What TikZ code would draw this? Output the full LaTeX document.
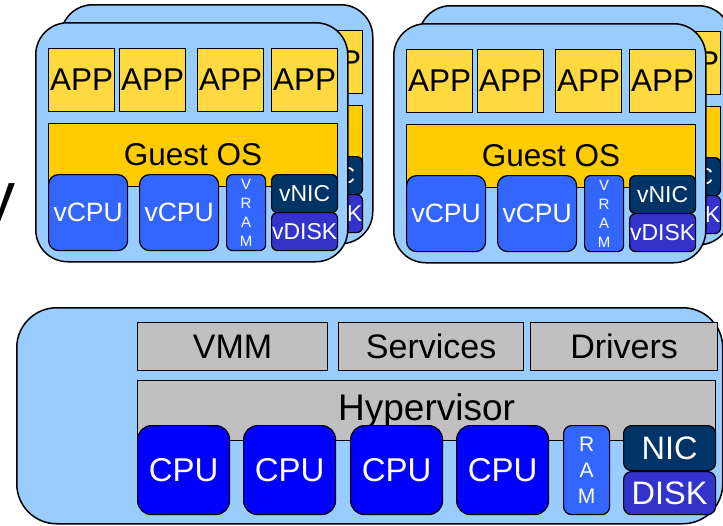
\documentclass[tikz,border=0pt]{standalone}
\usepackage{fontspec}
\setmainfont{Liberation Sans}
\usetikzlibrary{positioning}

\definecolor{vmblue}{HTML}{99CCFF}
\definecolor{appyellow}{HTML}{FFD940}
\definecolor{osyellow}{HTML}{FFCC00}
\definecolor{vcpublue}{HTML}{3366FF}
\definecolor{nicnavy}{HTML}{003366}
\definecolor{diskblue}{HTML}{3333CC}
\definecolor{cpublue}{HTML}{0000FF}
\definecolor{layergray}{HTML}{C0C0C0}

\begin{document}
\begin{tikzpicture}[
  x=1pt,
  y=-1pt,
  line width=1.2pt,
  every node/.style={inner sep=0pt, anchor=north west},
  wh/.style 2 args={minimum width=#1pt, minimum height=#2pt},
  part/.style={draw, align=center},
  vmbox/.style={draw, fill=vmblue, line width=1.5pt, rounded corners=32pt, wh={312}{239}},
  appbox/.style={part, fill=appyellow, wh={66}{63}, font=\fontsize{31.5}{36}\selectfont},
  osbox/.style={part, fill=osyellow, wh={289}{63}, font=\fontsize{31.5}{36}\selectfont},
  vcpubox/.style={part, fill=vcpublue, text=white, rounded corners=10pt, wh={79}{76}, font=\fontsize{26.5}{30}\selectfont},
  vrambox/.style={part, fill=vcpublue, text=white, rounded corners=6pt, wh={39}{76}, font=\fontsize{15}{19}\selectfont},
  vnicbox/.style={part, fill=nicnavy, text=white, rounded corners=6pt, wh={66}{38}, font=\fontsize{23}{28}\selectfont},
  vdiskbox/.style={part, fill=diskblue, text=white, rounded corners=6pt, wh={66}{38}, font=\fontsize{23}{28}\selectfont},
  hostbox/.style={draw, fill=vmblue, line width=1.5pt, rounded corners=40pt},
  layerbox/.style={part, fill=layergray, font=\fontsize{34}{38}\selectfont},
  cpubox/.style={part, fill=cpublue, text=white, rounded corners=14pt, wh={92}{89}, font=\fontsize{33}{36}\selectfont},
  rambox/.style={part, fill=vcpublue, text=white, rounded corners=8pt, wh={46}{89}, font=\fontsize{21}{26}\selectfont},
  nicbox/.style={part, fill=nicnavy, text=white, rounded corners=8pt, wh={92}{45}, font=\fontsize{32.5}{36}\selectfont},
  diskbox/.style={part, fill=diskblue, text=white, rounded corners=8pt, wh={92}{43}, font=\fontsize{32.5}{36}\selectfont},
]
\useasboundingbox (0,0) rectangle (723,525);
\clip (0,0) rectangle (723,525);

% cut-off letter at the left edge
\node[anchor=base west, font=\fontsize{66}{66}\selectfont] (cut) at (-18,218) {y};

% virtual machines, back copy first
\foreach \vm/\dx/\dy in {b1/25/-18, f1/0/0, b2/383/-17, f2/358/1} {
  \begin{scope}[shift={(\dx,\dy)}]
    \node[vmbox] (\vm) at (35,22) {};
    \foreach \ax [count=\i] in {48,119,197,271}
      \node[appbox] (\vm-app\i) at (\ax,48) {APP};
    \node[osbox] (\vm-os) at (48,123) {Guest OS};
    \node[vcpubox] (\vm-vcpu1) at (48,174) {vCPU};
    \node[vcpubox] (\vm-vcpu2) at (139,174) {vCPU};
    \node[vrambox] (\vm-vram) at (226,174) {V\\R\\A\\M};
    \node[vnicbox] (\vm-vnic) at (271,174) {vNIC};
    \node[vdiskbox] (\vm-vdisk) at (271,212) {vDISK};
  \end{scope}
}

% host
\node[hostbox, wh={706}{216}] (host) at (16,307) {};
\node[layerbox, wh={190}{48}] (vmm) at (137,322) {VMM};
\node[layerbox, wh={185}{48}] (services) at (338,322) {Services};
\node[layerbox, wh={187}{48}] (drivers) at (530,322) {Drivers};
\node[layerbox, wh={578}{60}, font=\fontsize{37}{40}\selectfont] (hyper) at (137,380) {Hypervisor};
\foreach \cx [count=\i] in {137,243,350,456}
  \node[cpubox] (cpu\i) at (\cx,425) {CPU};
\node[rambox] (ram) at (563,425) {R\\A\\M};
\node[nicbox] (nic) at (623,425) {NIC};
\node[diskbox] (disk) at (623,471) {DISK};
\end{tikzpicture}
\end{document}
